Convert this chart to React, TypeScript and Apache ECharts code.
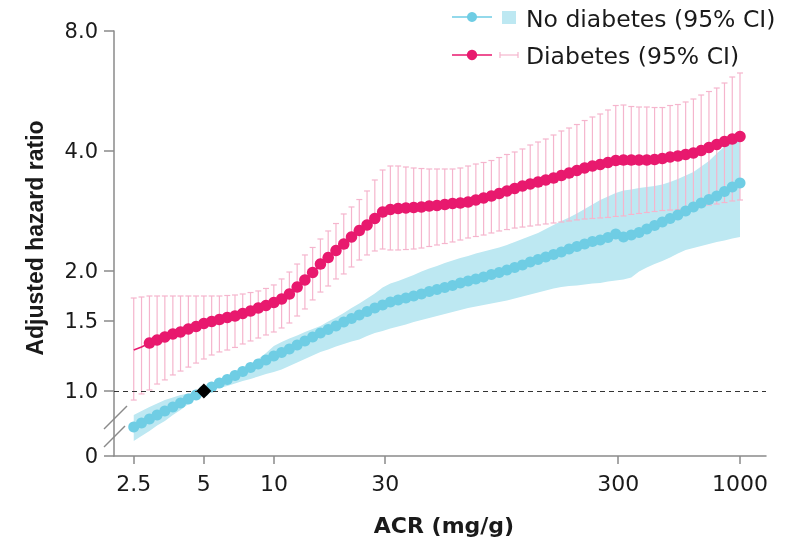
import React, { useEffect, useRef } from 'react';
import * as echarts from 'echarts';

// ACR (mg/g) at each estimated point
const ACR = [2.5, 2.7, 2.92, 3.15, 3.4, 3.68, 3.97, 4.29, 4.63, 5, 5.4, 5.83, 6.3, 6.8, 7.34, 7.93, 8.56, 9.24, 9.98, 10.78, 11.64, 12.57, 13.57, 14.65, 15.82, 17.08, 18.45, 19.92, 21.51, 23.23, 25.08, 27.08, 29.25, 31.58, 34.1, 36.82, 39.76, 42.94, 46.37, 50.06, 54.06, 58.38, 63.04, 68.07, 73.5, 79.37, 85.7, 92.54, 99.93, 107.9, 116.5, 125.8, 135.9, 146.7, 158.4, 171.1, 184.7, 199.5, 215.4, 232.6, 251.2, 271.2, 292.9, 316.2, 341.5, 368.7, 398.1, 429.9, 464.2, 501.2, 541.2, 584.4, 631.1, 681.4, 735.8, 794.5, 857.9, 926.4, 1000];

// No diabetes: hazard ratio and 95% CI
const NO_DIAB_HR = [0.812, 0.831, 0.851, 0.871, 0.891, 0.912, 0.933, 0.955, 0.977, 1.0, 1.023, 1.047, 1.069, 1.094, 1.119, 1.145, 1.169, 1.196, 1.224, 1.249, 1.275, 1.304, 1.335, 1.366, 1.398, 1.426, 1.456, 1.49, 1.52, 1.551, 1.583, 1.615, 1.644, 1.672, 1.692, 1.711, 1.731, 1.751, 1.777, 1.797, 1.818, 1.839, 1.866, 1.888, 1.91, 1.932, 1.96, 1.983, 2.012, 2.041, 2.071, 2.107, 2.138, 2.169, 2.2, 2.232, 2.271, 2.304, 2.338, 2.372, 2.392, 2.427, 2.477, 2.434, 2.462, 2.498, 2.549, 2.601, 2.654, 2.708, 2.764, 2.828, 2.895, 2.962, 3.022, 3.084, 3.165, 3.249, 3.325];
const NO_DIAB_LO = [0.749, 0.771, 0.794, 0.819, 0.841, 0.871, 0.896, 0.928, 0.96, 0.991, 1.006, 1.017, 1.029, 1.044, 1.059, 1.072, 1.087, 1.103, 1.116, 1.132, 1.155, 1.179, 1.203, 1.228, 1.253, 1.271, 1.293, 1.312, 1.331, 1.346, 1.374, 1.398, 1.414, 1.435, 1.451, 1.468, 1.49, 1.507, 1.524, 1.542, 1.56, 1.578, 1.597, 1.615, 1.629, 1.643, 1.658, 1.672, 1.687, 1.706, 1.726, 1.746, 1.766, 1.787, 1.808, 1.823, 1.834, 1.839, 1.85, 1.861, 1.866, 1.882, 1.893, 1.904, 1.926, 1.994, 2.041, 2.082, 2.119, 2.162, 2.213, 2.258, 2.284, 2.311, 2.337, 2.365, 2.385, 2.413, 2.434];
const NO_DIAB_HI = [0.871, 0.891, 0.912, 0.93, 0.949, 0.963, 0.977, 0.986, 0.994, 1.009, 1.035, 1.056, 1.081, 1.103, 1.129, 1.162, 1.203, 1.245, 1.297, 1.327, 1.354, 1.378, 1.406, 1.431, 1.456, 1.494, 1.529, 1.569, 1.615, 1.658, 1.706, 1.756, 1.818, 1.861, 1.888, 1.921, 1.954, 1.994, 2.029, 2.059, 2.095, 2.125, 2.156, 2.181, 2.213, 2.238, 2.264, 2.291, 2.324, 2.365, 2.406, 2.448, 2.491, 2.549, 2.609, 2.67, 2.724, 2.788, 2.861, 2.936, 3.014, 3.075, 3.138, 3.184, 3.202, 3.23, 3.249, 3.268, 3.296, 3.344, 3.403, 3.472, 3.543, 3.657, 3.775, 3.943, 4.105, 4.25, 4.412];

// Diabetes: hazard ratio and 95% CI
const DIAB_HR = [1.267, 1.289, 1.319, 1.343, 1.366, 1.39, 1.406, 1.431, 1.451, 1.477, 1.494, 1.511, 1.529, 1.542, 1.565, 1.587, 1.615, 1.639, 1.667, 1.701, 1.751, 1.823, 1.899, 1.983, 2.082, 2.162, 2.251, 2.337, 2.434, 2.527, 2.609, 2.709, 2.812, 2.853, 2.869, 2.878, 2.886, 2.895, 2.911, 2.92, 2.936, 2.954, 2.962, 2.979, 3.014, 3.049, 3.084, 3.129, 3.175, 3.221, 3.268, 3.306, 3.344, 3.383, 3.422, 3.472, 3.522, 3.574, 3.626, 3.668, 3.7, 3.743, 3.786, 3.797, 3.797, 3.797, 3.797, 3.808, 3.83, 3.864, 3.886, 3.92, 3.954, 4.011, 4.082, 4.153, 4.225, 4.287, 4.35];
const DIAB_LO = [0.949, 0.983, 1.006, 1.041, 1.066, 1.097, 1.122, 1.148, 1.175, 1.203, 1.231, 1.253, 1.267, 1.286, 1.312, 1.335, 1.358, 1.382, 1.406, 1.439, 1.481, 1.542, 1.606, 1.692, 1.771, 1.834, 1.91, 1.966, 2.047, 2.131, 2.194, 2.245, 2.271, 2.258, 2.258, 2.264, 2.271, 2.284, 2.304, 2.324, 2.344, 2.365, 2.392, 2.42, 2.441, 2.462, 2.491, 2.52, 2.541, 2.563, 2.578, 2.593, 2.609, 2.624, 2.639, 2.654, 2.67, 2.686, 2.701, 2.709, 2.717, 2.725, 2.741, 2.749, 2.773, 2.788, 2.804, 2.82, 2.836, 2.844, 2.852, 2.861, 2.886, 2.911, 2.928, 2.945, 2.97, 2.997, 3.014];
const DIAB_HI = [1.711, 1.721, 1.731, 1.731, 1.731, 1.731, 1.731, 1.731, 1.731, 1.731, 1.731, 1.731, 1.736, 1.741, 1.751, 1.766, 1.782, 1.808, 1.845, 1.91, 1.988, 2.082, 2.194, 2.291, 2.406, 2.52, 2.631, 2.78, 2.895, 3.022, 3.175, 3.383, 3.584, 3.668, 3.668, 3.647, 3.626, 3.615, 3.605, 3.605, 3.605, 3.605, 3.626, 3.668, 3.71, 3.743, 3.786, 3.852, 3.92, 3.977, 4.047, 4.141, 4.213, 4.287, 4.387, 4.49, 4.568, 4.661, 4.77, 4.868, 4.953, 5.069, 5.202, 5.217, 5.172, 5.157, 5.157, 5.142, 5.142, 5.202, 5.232, 5.309, 5.401, 5.527, 5.64, 5.755, 5.924, 6.133, 6.277];
// diabetes points drawn without a dot marker (only line + CI)
const DIAB_NO_DOT = 2;

const X_TICKS = [2.5, 5, 10, 30, 300, 1000];
const X_TICK_LABELS = ['2.5', '5', '10', '30', '300', '1000'];
const Y_TICKS = [0.687, 1, 1.5, 2, 4, 8];
const Y_TICK_LABELS = ['0', '1.0', '1.5', '2.0', '4.0', '8.0'];
const REFERENCE = [5, 1];

const CYAN = '#6FCDE4';
const BAND = '#BDE8F2';
const RED = '#E8196E';
const PINK = '#F5B5CD';
const AXIS = '#8a8a8a';
const TEXT = '#1a1a1a';

function labelFor(v: number, ticks: number[], labels: string[]) {
  let best = 0;
  for (let i = 1; i < ticks.length; i++) {
    if (Math.abs(Math.log(ticks[i] / v)) < Math.abs(Math.log(ticks[best] / v))) best = i;
  }
  return labels[best];
}

export default function App() {
  const ref = useRef<HTMLDivElement>(null);
  useEffect(() => {
    const chart = echarts.init(ref.current!, null, { renderer: 'svg' });
    const option: any = {
      animation: false,
      grid: { left: 114, right: 24, top: 31, bottom: 85 },
      xAxis: {
        type: 'log',
        logBase: 10,
        min: 2.057,
        max: 1293,
        axisLine: { show: true, lineStyle: { color: AXIS, width: 1.5 } },
        axisTick: { show: true, customValues: X_TICKS, length: 8, lineStyle: { color: AXIS, width: 1.5 } },
        axisLabel: {
          customValues: X_TICKS,
          formatter: (v: number) => labelFor(v, X_TICKS, X_TICK_LABELS),
          margin: 16,
          fontSize: 22,
          fontFamily: 'DejaVu Sans',
          color: TEXT,
        },
        splitLine: { show: false },
        minorTick: { show: false },
      },
      yAxis: {
        type: 'log',
        logBase: 2,
        min: 0.6869,
        max: 8.0001,
        axisLine: { show: true, lineStyle: { color: AXIS, width: 1.5 } },
        axisTick: { show: true, customValues: Y_TICKS, length: 10, lineStyle: { color: AXIS, width: 1.5 } },
        axisLabel: {
          customValues: Y_TICKS,
          formatter: (v: number) => labelFor(v, Y_TICKS, Y_TICK_LABELS),
          margin: 16,
          fontSize: 21,
          fontFamily: 'DejaVu Sans',
          color: TEXT,
        },
        splitLine: { show: false },
        minorTick: { show: false },
      },
      series: [
        {
          type: 'custom',
          name: 'No diabetes CI',
          silent: true,
          z: 1,
          data: ACR.map((x, i) => [x, NO_DIAB_LO[i], NO_DIAB_HI[i]]),
          encode: { x: 0, y: [1, 2] },
          renderItem: (params: any, api: any) => {
            if (params.dataIndex !== 0) return null;
            const pts: number[][] = [];
            for (let i = 0; i < ACR.length; i++) pts.push(api.coord([ACR[i], NO_DIAB_HI[i]]));
            for (let i = ACR.length - 1; i >= 0; i--) pts.push(api.coord([ACR[i], NO_DIAB_LO[i]]));
            return { type: 'polygon', shape: { points: pts }, style: { fill: BAND } };
          },
        },
        {
          type: 'custom',
          name: 'Diabetes CI',
          silent: true,
          z: 2,
          data: ACR.map((x, i) => [x, DIAB_LO[i], DIAB_HI[i]]),
          encode: { x: 0, y: [1, 2] },
          renderItem: (params: any, api: any) => {
            const x = api.value(0);
            const lo = api.coord([x, api.value(1)]);
            const hi = api.coord([x, api.value(2)]);
            const w = 3;
            const st = { stroke: PINK, lineWidth: 1.2 };
            return {
              type: 'group',
              children: [
                { type: 'line', shape: { x1: hi[0], y1: hi[1], x2: lo[0], y2: lo[1] }, style: st },
                { type: 'line', shape: { x1: hi[0] - w, y1: hi[1], x2: hi[0] + w, y2: hi[1] }, style: st },
                { type: 'line', shape: { x1: lo[0] - w, y1: lo[1], x2: lo[0] + w, y2: lo[1] }, style: st },
              ],
            };
          },
        },
        {
          type: 'line',
          name: 'No diabetes',
          z: 3,
          data: ACR.map((x, i) => [x, NO_DIAB_HR[i]]),
          symbol: 'circle',
          symbolSize: 11,
          showAllSymbol: true,
          itemStyle: { color: CYAN },
          lineStyle: { color: CYAN, width: 1.5 },
          markLine: {
            silent: true,
            symbol: ['none', 'none'],
            label: { show: false },
            lineStyle: { color: '#333', width: 1, type: [5, 4] },
            data: [{ yAxis: 1 }],
          },
        },
        {
          type: 'line',
          name: 'Diabetes',
          z: 4,
          data: ACR.map((x, i) =>
            i < DIAB_NO_DOT ? { value: [x, DIAB_HR[i]], symbol: 'none' } : { value: [x, DIAB_HR[i]] }
          ),
          symbol: 'circle',
          symbolSize: 11.5,
          showAllSymbol: true,
          itemStyle: { color: RED },
          lineStyle: { color: RED, width: 1.5 },
        },
        {
          type: 'scatter',
          name: 'Reference',
          z: 5,
          data: [REFERENCE],
          symbol: 'diamond',
          symbolSize: [15, 15],
          itemStyle: { color: '#000', opacity: 1 },
        },
      ],
      graphic: [
        // axis break marks
        { type: 'line', z: 10, shape: { x1: 104, y1: 429, x2: 127, y2: 406 }, style: { stroke: AXIS, lineWidth: 1.5 } },
        { type: 'line', z: 10, shape: { x1: 104, y1: 447, x2: 125, y2: 426 }, style: { stroke: AXIS, lineWidth: 1.5 } },
        // axis titles
        {
          type: 'text',
          x: 35,
          y: 238,
          rotation: Math.PI / 2,
          style: {
            text: 'Adjusted hazard ratio',
            fill: TEXT,
            fontSize: 23,
            fontWeight: 'bold',
            fontFamily: 'Liberation Sans',
            align: 'center',
            verticalAlign: 'middle',
          },
        },
        {
          type: 'text',
          x: 444,
          y: 525,
          style: {
            text: 'ACR (mg/g)',
            fill: TEXT,
            fontSize: 22,
            fontWeight: 'bold',
            fontFamily: 'DejaVu Sans',
            align: 'center',
            verticalAlign: 'middle',
          },
        },
        // legend row 1
        { type: 'line', shape: { x1: 452, y1: 17, x2: 492, y2: 17 }, style: { stroke: CYAN, lineWidth: 1.5 } },
        { type: 'circle', shape: { cx: 472, cy: 17, r: 5 }, style: { fill: CYAN } },
        { type: 'rect', shape: { x: 502, y: 11, width: 14, height: 13 }, style: { fill: BAND } },
        {
          type: 'text',
          x: 526,
          y: 18.5,
          style: { text: 'No diabetes (95% CI)', fill: TEXT, fontSize: 23.5, fontFamily: 'DejaVu Sans', verticalAlign: 'middle' },
        },
        // legend row 2
        { type: 'line', shape: { x1: 452, y1: 55, x2: 492, y2: 55 }, style: { stroke: RED, lineWidth: 1.5 } },
        { type: 'circle', shape: { cx: 472, cy: 55, r: 5.2 }, style: { fill: RED } },
        { type: 'line', shape: { x1: 500, y1: 55, x2: 518, y2: 55 }, style: { stroke: PINK, lineWidth: 1.2 } },
        { type: 'line', shape: { x1: 500, y1: 52, x2: 500, y2: 58 }, style: { stroke: PINK, lineWidth: 1.2 } },
        { type: 'line', shape: { x1: 518, y1: 52, x2: 518, y2: 58 }, style: { stroke: PINK, lineWidth: 1.2 } },
        {
          type: 'text',
          x: 526,
          y: 56,
          style: { text: 'Diabetes (95% CI)', fill: TEXT, fontSize: 23.5, fontFamily: 'DejaVu Sans', verticalAlign: 'middle' },
        },
      ],
    };
    chart.setOption(option);
    return () => chart.dispose();
  }, []);
  return <div ref={ref} style={{ position: 'fixed', left: 0, top: 0, width: 790, height: 541 }} />;
}
